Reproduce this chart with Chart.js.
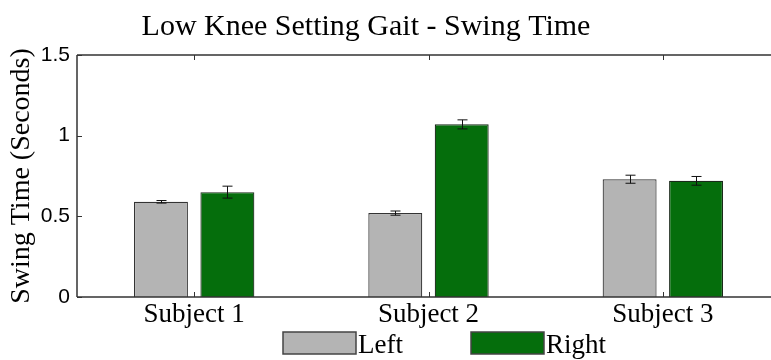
<!DOCTYPE html>
<html>
<head>
<meta charset="utf-8">
<script src="https://cdn.jsdelivr.net/npm/chart.js@4"></script>
<style>
  html, body { margin: 0; padding: 0; background: #fff; overflow: hidden; width: 771px; height: 360px; }
  canvas { display: block; }
</style>
</head>
<body>
<canvas id="c" width="790" height="360"></canvas>
<script>
// Swing time per subject, mean and error (seconds)
const subjects = ['Subject 1', 'Subject 2', 'Subject 3'];
const leftSwing = [0.59, 0.52, 0.73];
const leftErr = [0.008, 0.013, 0.025];
const rightSwing = [0.65, 1.07, 0.72];
const rightErr = [0.037, 0.028, 0.027];
const yTicks = [0, 0.5, 1, 1.5];
const seriesNames = ['Left', 'Right'];

const SERIF = '"Liberation Serif", "Times New Roman", serif';
const SANS = '"Liberation Sans", Arial, sans-serif';
const FRAME = '#333333';

// Vertical error bars with caps, centred on each bar
const errorBars = {
  id: 'errorBars',
  afterDatasetsDraw(chart) {
    const { ctx, scales: { y } } = chart;
    ctx.save();
    ctx.strokeStyle = '#111';
    ctx.lineWidth = 1;
    chart.data.datasets.forEach((ds, i) => {
      const meta = chart.getDatasetMeta(i);
      meta.data.forEach((bar, j) => {
        const v = ds.data[j], e = ds.errors[j];
        const x = Math.round(bar.x) + 0.5;
        const yHi = y.getPixelForValue(v + e);
        const yLo = y.getPixelForValue(v - e);
        const cap = 5;
        ctx.beginPath();
        ctx.moveTo(x, yHi); ctx.lineTo(x, yLo);
        ctx.moveTo(x - cap, yHi); ctx.lineTo(x + cap, yHi);
        ctx.moveTo(x - cap, yLo); ctx.lineTo(x + cap, yLo);
        ctx.stroke();
      });
    });
    ctx.restore();
  }
};

// Box frame with inward tick marks
const frame = {
  id: 'frame',
  afterDraw(chart) {
    const { ctx, chartArea: a, scales: { x, y } } = chart;
    ctx.save();
    ctx.strokeStyle = FRAME;
    ctx.lineWidth = 1.5;
    ctx.beginPath();
    ctx.moveTo(a.left, a.top); ctx.lineTo(a.right, a.top);
    ctx.moveTo(a.left, a.top); ctx.lineTo(a.left, a.bottom);
    ctx.moveTo(a.left, a.bottom); ctx.lineTo(a.right, a.bottom);
    ctx.stroke();
    ctx.lineWidth = 1;
    ctx.beginPath();
    y.ticks.forEach(t => {
      const py = Math.round(y.getPixelForValue(t.value)) + 0.5;
      ctx.moveTo(a.left, py); ctx.lineTo(a.left + 5, py);
    });
    subjects.forEach((s, i) => {
      const px = Math.round(x.getPixelForValue(i)) + 0.5;
      ctx.moveTo(px, a.bottom); ctx.lineTo(px, a.bottom - 5);
      ctx.moveTo(px, a.top); ctx.lineTo(px, a.top + 5);
    });
    ctx.stroke();
    ctx.restore();
  }
};

// Chart heading
const heading = {
  id: 'heading',
  afterDraw(chart) {
    const { ctx } = chart;
    ctx.save();
    ctx.fillStyle = '#000';
    ctx.font = '30px ' + SERIF;
    ctx.textAlign = 'center';
    ctx.textBaseline = 'alphabetic';
    ctx.fillText('Low Knee Setting Gait - Swing Time', 366, 35);
    ctx.restore();
  }
};

// Legend row under the category labels
const legendRow = {
  id: 'legendRow',
  afterDraw(chart) {
    const { ctx } = chart;
    const boxX = [283, 471];
    ctx.save();
    ctx.font = '27px ' + SERIF;
    ctx.textBaseline = 'alphabetic';
    ctx.textAlign = 'left';
    chart.data.datasets.forEach((ds, i) => {
      const bx = boxX[i];
      ctx.fillStyle = ds.backgroundColor;
      ctx.fillRect(bx, 332, 73, 22);
      ctx.strokeStyle = '#444';
      ctx.lineWidth = 1.5;
      ctx.strokeRect(bx, 332, 73, 22);
      ctx.fillStyle = '#000';
      ctx.fillText(ds.label, bx + 75, 353);
    });
    ctx.restore();
  }
};

new Chart(document.getElementById('c'), {
  type: 'bar',
  data: {
    labels: subjects,
    datasets: [
      {
        label: seriesNames[0],
        data: leftSwing,
        errors: leftErr,
        backgroundColor: '#b4b4b4',
        borderColor: '#333333',
        borderWidth: 1.2,
        categoryPercentage: 0.567,
        barPercentage: 0.812
      },
      {
        label: seriesNames[1],
        data: rightSwing,
        errors: rightErr,
        backgroundColor: '#056e0c',
        borderColor: '#1a2a1a',
        borderWidth: 1.2,
        categoryPercentage: 0.567,
        barPercentage: 0.812
      }
    ]
  },
  options: {
    responsive: false,
    devicePixelRatio: 1,
    animation: false,
    layout: { padding: { top: 55, right: 10, left: 0, bottom: 0 } },
    plugins: {
      legend: { display: false },
      title: { display: false },
      tooltip: { enabled: false }
    },
    scales: {
      x: {
        grid: { display: false, drawTicks: false },
        border: { display: false },
        ticks: { color: '#000', font: { family: SERIF, size: 27 }, padding: 2 },
        afterFit(scale) { scale.height = 63; }
      },
      y: {
        min: 0,
        max: 1.5,
        afterBuildTicks(scale) { scale.ticks = yTicks.map(v => ({ value: v })); },
        grid: { display: false, drawTicks: false },
        border: { display: false },
        ticks: {
          color: '#000',
          font: { family: SANS, size: 21 },
          padding: 7,
          callback: v => String(v)
        },
        title: {
          display: true,
          text: 'Swing Time (Seconds)',
          color: '#000',
          font: { family: SERIF, size: 28 },
          padding: { top: 5, bottom: 0 }
        },
        afterFit(scale) { scale.width = 77; }
      }
    }
  },
  plugins: [errorBars, frame, heading, legendRow]
});
</script>
</body>
</html>
